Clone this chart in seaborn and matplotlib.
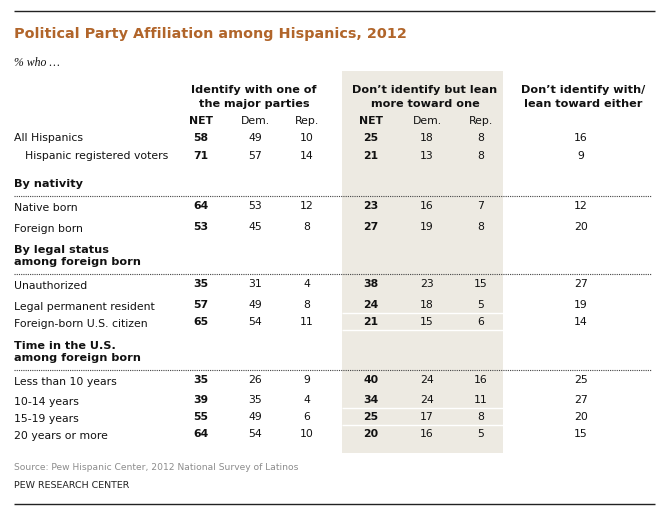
import matplotlib
matplotlib.use("Agg")
import matplotlib.pyplot as plt
import seaborn as sns
from matplotlib.patches import Rectangle

# ---------------------------------------------------------
# Data
# ---------------------------------------------------------

title = "Political Party Affiliation among Hispanics, 2012"
subtitle = "% who \u2026"

group_heads = [
    "Identify with one of\nthe major parties",
    "Don\u2019t identify but lean\nmore toward one",
    "Don\u2019t identify with/\nlean toward either",
]
sub_heads = ["NET", "Dem.", "Rep.", "NET", "Dem.", "Rep."]

sections = [
    None,
    "By nativity",
    "By legal status\namong foreign born",
    "Time in the U.S.\namong foreign born",
]

row_labels = [
    "All Hispanics",
    "Hispanic registered voters",
    "Native born",
    "Foreign born",
    "Unauthorized",
    "Legal permanent resident",
    "Foreign-born U.S. citizen",
    "Less than 10 years",
    "10-14 years",
    "15-19 years",
    "20 years or more",
]
row_section = [0, 0, 1, 1, 2, 2, 2, 3, 3, 3, 3]

id_net = [58, 71, 64, 53, 35, 57, 65, 35, 39, 55, 64]
id_dem = [49, 57, 53, 45, 31, 49, 54, 26, 35, 49, 54]
id_rep = [10, 14, 12, 8, 4, 8, 11, 9, 4, 6, 10]
lean_net = [25, 21, 23, 27, 38, 24, 21, 40, 34, 25, 20]
lean_dem = [18, 13, 16, 19, 23, 18, 15, 24, 24, 17, 16]
lean_rep = [8, 8, 7, 8, 15, 5, 6, 16, 11, 8, 5]
neither = [16, 9, 12, 20, 27, 19, 14, 25, 27, 20, 15]

source = "Source: Pew Hispanic Center, 2012 National Survey of Latinos"
credit = "PEW RESEARCH CENTER"

# ---------------------------------------------------------
# Layout (pixel units)
# ---------------------------------------------------------

W, H = 670, 516
row_y = [138, 156, 206, 227, 284, 305, 322, 380, 400, 417, 434]
section_y = [None, 184, 256, 352]
rule_y = [None, 195.5, 273.5, 369.5]
col_x = [201, 255, 307, 371, 427, 481, 581]
head_x = [254, 425, 583]
brown = "#b1652a"
shade = "#edeae2"

sns.set_theme(style="white")
plt.rcParams["font.family"] = ["DejaVu Sans"]

fig = plt.figure(figsize=(W / 100, H / 100), dpi=100)
ax = fig.add_axes([0, 0, 1, 1])
ax.set_xlim(0, W)
ax.set_ylim(H, 0)
ax.axis("off")

# shaded "lean" column
ax.add_patch(Rectangle((342, 71), 161, 381.5, color=shade, lw=0, zorder=0))
for yy in [312.5, 329.5, 407.5, 424.5]:
    ax.hlines(yy, 342, 503, color="white", lw=1, zorder=1)

# top and bottom rules
ax.hlines([11, 504], 14, 655, color="#222222", lw=1)

ax.text(14, 34, title, fontsize=10.4, fontweight="bold", color=brown,
        va="center", ha="left")
ax.text(14, 63, subtitle, fontsize=8.5, style="italic",
        family="Liberation Serif", va="center", ha="left", color="#111111")

for hx, txt in zip(head_x, group_heads):
    ax.text(hx, 97, txt, fontsize=8.1, fontweight="bold", ha="center",
            va="center", linespacing=1.45, color="#111111")

for i, (cx, txt) in enumerate(zip(col_x, sub_heads)):
    ax.text(cx, 121, txt, fontsize=7.8, ha="center", va="center",
            fontweight="bold" if txt == "NET" else "normal", color="#111111")

for sy, ry, txt in zip(section_y, rule_y, sections):
    if txt is None:
        continue
    ax.text(14, sy, txt, fontsize=8.1, fontweight="bold", ha="left",
            va="center", linespacing=1.2, color="#111111")
    ax.hlines(ry, 14, 651, color="#444444", lw=0.8, linestyles=(0, (1, 1)))

columns = [id_net, id_dem, id_rep, lean_net, lean_dem, lean_rep, neither]
for r, label in enumerate(row_labels):
    y = row_y[r]
    lx = 25 if label == "Hispanic registered voters" else 14
    ly = y if row_section[r] == 0 else y + 2
    ax.text(lx, ly, label, fontsize=7.8, ha="left", va="center",
            color="#111111")
    for c, vals in enumerate(columns):
        bold = c in (0, 3)
        ax.text(col_x[c], y, str(vals[r]), fontsize=7.8, ha="center",
                va="center", fontweight="bold" if bold else "normal",
                color="#111111")

ax.text(14, 467, source, fontsize=6.6, color="#8c8c8c", ha="left",
        va="center")
ax.text(14, 485, credit, fontsize=6.8, color="#222222", ha="left",
        va="center")

fig.savefig("out.png", dpi=100)
